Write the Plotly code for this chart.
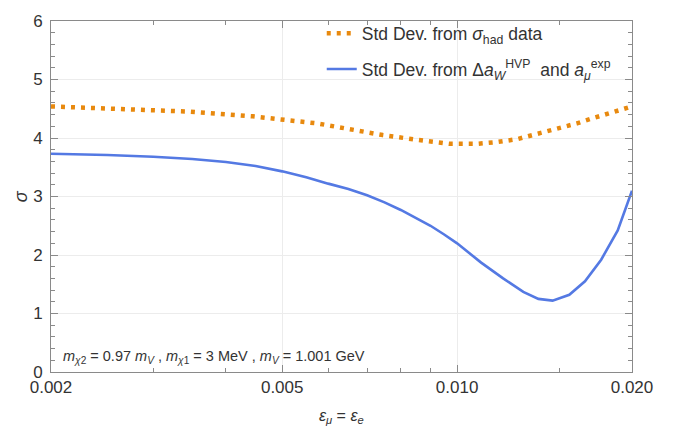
import plotly.graph_objects as go

# Orange: Std Dev. from sigma_had data
eps_had = [0.0020, 0.00285, 0.00347, 0.00445, 0.0050, 0.00574, 0.00654, 0.00745,
           0.00853, 0.00972, 0.01082, 0.01171, 0.01268, 0.01373, 0.01485, 0.01608,
           0.01727, 0.0187, 0.0200]
sig_had = [4.54, 4.49, 4.45, 4.37, 4.31, 4.25, 4.15, 4.05,
           3.97, 3.90, 3.90, 3.93, 3.98, 4.07, 4.17, 4.25,
           4.35, 4.45, 4.54]

# Blue: Std Dev. from Delta a_W^HVP and a_mu^exp
eps_hvp = [0.0020, 0.0025, 0.0030, 0.0035, 0.0040, 0.0045, 0.0050, 0.0055, 0.0060,
           0.0065, 0.0070, 0.0075, 0.0080, 0.0085, 0.0090, 0.0095, 0.0100, 0.0110,
           0.0120, 0.0130, 0.0138, 0.0146, 0.0156, 0.0166, 0.0177, 0.0189, 0.0200]
sig_hvp = [3.73, 3.71, 3.68, 3.64, 3.59, 3.52, 3.43, 3.33, 3.22,
           3.13, 3.02, 2.90, 2.77, 2.63, 2.50, 2.35, 2.20, 1.87,
           1.60, 1.37, 1.25, 1.22, 1.32, 1.55, 1.92, 2.42, 3.10]

x_ticks = [0.002, 0.005, 0.010, 0.020]
x_ticktext = ["0.002", "0.005", "0.010", "0.020"]
x_minor = [0.003, 0.004, 0.006, 0.007, 0.008, 0.009, 0.015]
y_ticks = [0, 1, 2, 3, 4, 5, 6]

ORANGE = "#E8890E"
BLUE = "#5479E3"
AXC = "#8a8a8a"
FONT = "Liberation Sans, Arial, sans-serif"

fig = go.Figure()
fig.add_trace(go.Scatter(
    x=eps_had, y=sig_had, mode="lines",
    line=dict(color=ORANGE, width=4.5, dash="4px,6px"),
    name="Std Dev. from <i>σ</i><sub>had</sub> data",
    legendgroup="a",
))
fig.add_trace(go.Scatter(
    x=eps_hvp, y=sig_hvp, mode="lines",
    line=dict(color=BLUE, width=2.6),
    name="Std Dev. from Δ<i>a</i><sub><i>W</i></sub><sup>HVP</sup>  and <i>a</i><sub><i>μ</i></sub><sup>exp</sup>",
    legendgroup="b",
))

fig.update_layout(
    width=680, height=431,
    margin=dict(l=51, r=48, t=13, b=59),
    paper_bgcolor="white", plot_bgcolor="white",
    font=dict(family=FONT, color="#333333", size=16),
    showlegend=True,
    legend=dict(x=0.466, y=1.016, xanchor="left", yanchor="top",
                bgcolor="rgba(0,0,0,0)", font=dict(size=17.5, color="#333333"),
                tracegroupgap=10),
    annotations=[
        dict(text="<i>m</i><sub><i>χ</i>2</sub> = 0.97 <i>m</i><sub><i>V</i></sub> , "
                  "<i>m</i><sub><i>χ</i>1</sub> = 3 MeV , <i>m</i><sub><i>V</i></sub> = 1.001 GeV",
             xref="paper", yref="paper", x=0.017, y=0.012, xanchor="left", yanchor="bottom",
             showarrow=False, font=dict(size=14.5, color="#333333")),
        dict(text="<i>ε</i><sub><i>μ</i></sub> = <i>ε</i><sub><i>e</i></sub>",
             xref="paper", yref="paper", x=0.5, y=-0.095, xanchor="center", yanchor="top",
             showarrow=False, font=dict(size=16, color="#333333")),
        dict(text="<i>σ</i>", xref="paper", yref="paper", x=-0.052, y=0.5,
             xanchor="center", yanchor="middle", textangle=-90,
             showarrow=False, font=dict(size=18, color="#333333")),
    ],
)

fig.update_xaxes(
    type="log", range=[-2.69897, -1.69897],
    tickvals=x_ticks, ticktext=x_ticktext,
    ticks="inside", ticklen=7, tickwidth=1, tickcolor=AXC,
    showline=True, linecolor=AXC, linewidth=1, mirror="ticks",
    showgrid=True, gridcolor="#ececec", gridwidth=1, zeroline=False,
    tickfont=dict(size=17, color="#333333"), ticklabelstandoff=0,
    minor=dict(tickvals=x_minor, ticks="inside", ticklen=4, tickcolor=AXC, showgrid=False),
)
fig.update_yaxes(
    range=[0, 6], tickvals=y_ticks,
    ticks="inside", ticklen=7, tickwidth=1, tickcolor=AXC,
    showline=True, linecolor=AXC, linewidth=1, mirror="ticks",
    showgrid=True, gridcolor="#ececec", gridwidth=1, zeroline=False,
    tickfont=dict(size=17, color="#333333"), ticklabelstandoff=4,
    minor=dict(dtick=0.2, ticks="inside", ticklen=4, tickcolor=AXC, showgrid=False),
)

fig.write_html("out.html")
